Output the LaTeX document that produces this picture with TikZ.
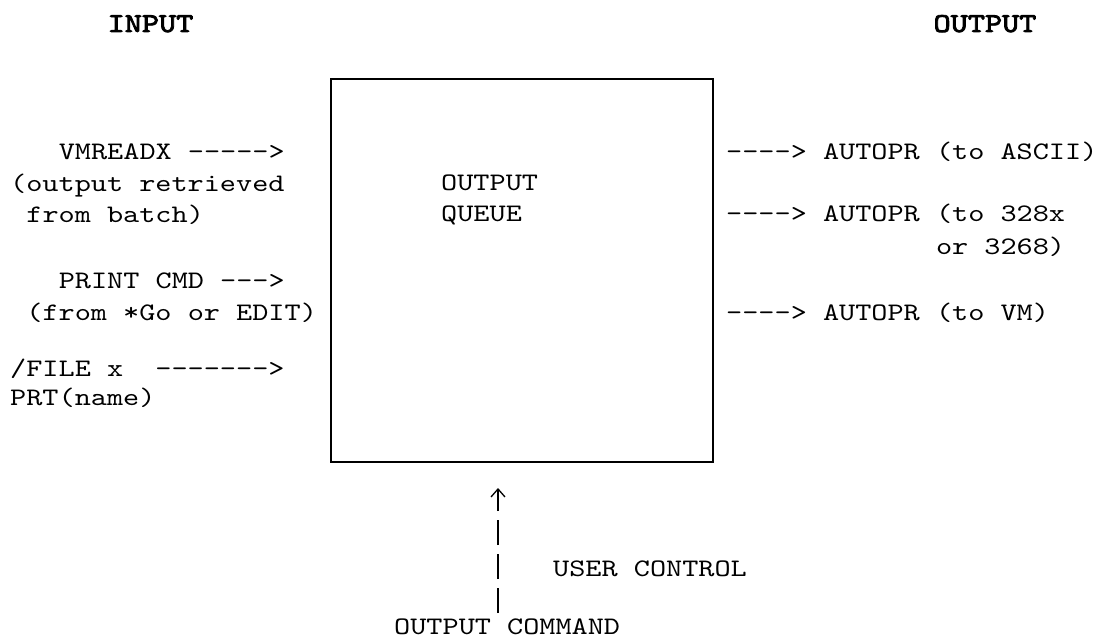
\documentclass[tikz,border=0pt]{standalone}
\usepackage{fontspec}
\usetikzlibrary{arrows.meta}
\newfontfamily\crt{lmmono10-regular.otf}[FakeStretch=1.22]
\newfontfamily\crtbold{lmmono10-regular.otf}[FakeStretch=1.2, FakeBold=3]

% hyphens boxed one by one so that -- and --- stay plain hyphens
\newcommand{\arrowtxt}[1]{\foreach \k in {1,...,#1}{\mbox{-}}>}

\tikzset{
	ascii/.style={font=\crt\fontsize{25.2}{31}\selectfont, anchor=base west, inner sep=0pt},
	heading/.style={font=\crtbold\fontsize{27.2}{33}\selectfont, anchor=base, inner sep=0pt},
	userline/.style={line width=1.3pt, dash pattern=on 25pt off 9pt, -{Straight Barb[length=8pt,width=14pt]}, shorten >=25pt}
}

\begin{document}
\begin{tikzpicture}[x=1pt,y=-1pt]
\useasboundingbox (0,0) rectangle (1096,639);

\node[heading] (input) at (150.5,32) {INPUT};
\node[heading] (output) at (985,32) {OUTPUT};

\node[draw, line width=2pt, inner sep=0pt, minimum width=382pt, minimum height=383pt] (queue) at (522,270.5) {};
\node[ascii] (outq) at (441,191) {OUTPUT};
\node[ascii] (queueq) at (441,222) {QUEUE};

% left column
\node[ascii] (vmreadx) at (58.6,160) {VMREADX \arrowtxt{5}};
\node[ascii] (vmnote) at (10,192) {(output retrieved};
\node[ascii] (vmnotetwo) at (26.2,223) {from batch)};
\node[ascii] (printcmd) at (58.6,289) {PRINT CMD \arrowtxt{3}};
\node[ascii] (printnote) at (26.2,320) {(from *Go or EDIT)};
\node[ascii] (filecmd) at (10,376) {/FILE x\ \ \arrowtxt{7}};
\node[ascii] (prtcmd) at (10,405) {PRT(name)};

% right column
\node[ascii] (toascii) at (726,160) {\arrowtxt{4} AUTOPR (to ASCII)};
\node[ascii] (toibm) at (726,222) {\arrowtxt{4} AUTOPR (to 328x};
\node[ascii] (toibmtwo) at (935.8,255) {or 3268)};
\node[ascii] (tovm) at (726,320) {\arrowtxt{4} AUTOPR (to VM)};

\node[ascii] (userctl) at (553,576) {USER CONTROL};
\node[ascii] (outcmd) at (394,634) {OUTPUT COMMAND};

\coordinate (ctlfoot) at (498,613);
\draw[userline] (ctlfoot) -- (ctlfoot |- queue.south);
\end{tikzpicture}
\end{document}
